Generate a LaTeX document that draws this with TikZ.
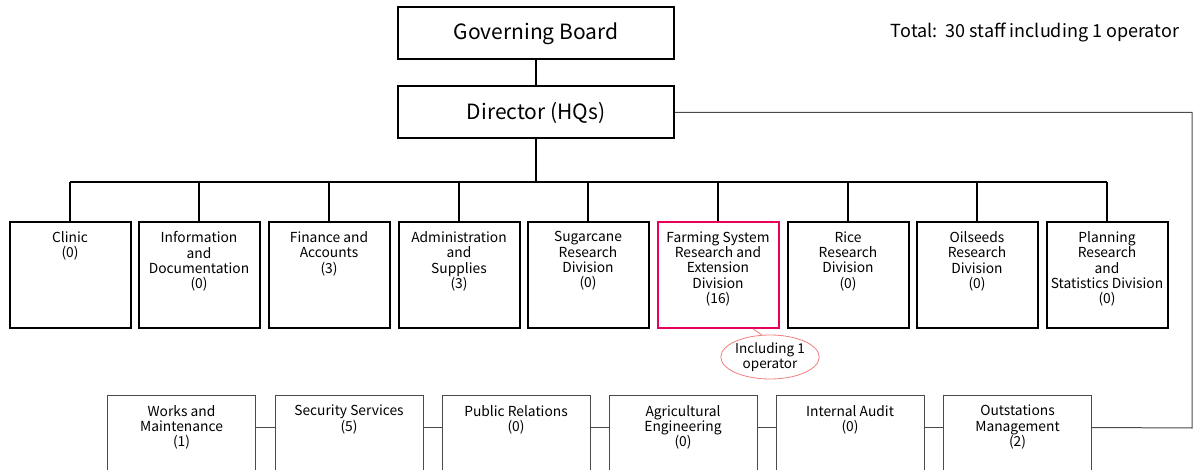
\documentclass[tikz,border=0pt]{standalone}
\usepackage{fontspec}
\setmainfont{Noto Sans CJK JP}
\usetikzlibrary{shapes.geometric}
\definecolor{hot}{HTML}{E8005A}
\definecolor{notered}{HTML}{EE7F7F}
\definecolor{thin}{HTML}{4A4A4A}
\begin{document}
\begin{tikzpicture}[x=1pt,y=-1pt,
  head/.style={draw,line width=2pt,minimum width=276pt,minimum height=52pt,inner sep=0pt,font=\fontsize{21}{24}\selectfont},
  divbox/.style={draw,line width=2pt,minimum width=121pt,minimum height=106pt,inner sep=0pt},
  lowbox/.style={draw=thin,line width=1pt,minimum width=148pt,minimum height=110pt,inner sep=0pt},
  txt/.style={anchor=north,align=center,inner sep=0pt,font=\fontsize{13.8}{15.3}\selectfont},
  link/.style={line width=2pt},
  thinlink/.style={draw=thin,line width=1pt}]
\useasboundingbox (0,0) rectangle (1196,470);
\clip (0,0) rectangle (1196,470);

% governing board and director
\node[head] (board) at (536,33.5) {Governing Board};
\node[head] (dir) at (536,112.5) {Director (HQs)};
\node[font=\fontsize{18}{21}\selectfont,inner sep=0pt] (total) at (1035,32) {Total:\ \ 30 staff including 1 operator};
\draw[link] (board) -- (dir);

% divisions under the director
\coordinate (bus) at (0,182);
\foreach \n/\x/\t in {clinic/70/{Clinic\\(0)},
    info/199/{Information\\and\\Documentation\\(0)},
    fin/329/{Finance and\\Accounts\\(3)},
    adm/459/{Administration\\and\\Supplies\\(3)},
    sugar/588/{Sugarcane\\Research\\Division\\(0)},
    rice/848/{Rice\\Research\\Division\\(0)},
    oil/977/{Oilseeds\\Research\\Division\\(0)},
    plan/1107/{Planning\\Research\\and\\Statistics Division\\(0)}}{
  \node[divbox] (\n) at (\x,275) {};
  \node[txt] (\n-t) at ([yshift=-10.5]\n.north) {\t};
}
\node[divbox,draw=hot] (farm) at (718,275) {};
\node[txt] (farm-t) at ([yshift=-10.5]farm.north) {Farming System\\Research and\\Extension\\Division\\(16)};

\draw[link] (dir.south) -- (dir.south |- bus);
\draw[link] (clinic.north |- bus) -- (plan.north |- bus);
\foreach \n in {clinic,info,fin,adm,sugar,farm,rice,oil,plan}
  \draw[link] (\n.north) -- (\n.north |- bus);

% note on the farming system division
\node[ellipse,draw=notered,line width=0.8pt,minimum width=90pt,minimum height=44pt,inner sep=0pt,
      align=center,font=\fontsize{13.5}{15.3}\selectfont] (note) at (770,357) {Including 1\\operator};
\draw[notered,line width=0.8pt] ([xshift=35]farm.south) -- (note.110);

% units linked to the director
\foreach \n/\x/\t in {works/181.5/{Works and\\Maintenance\\(1)},
    sec/349/{Security Services\\(5)},
    pub/516/{Public Relations\\(0)},
    agri/683/{Agricultural\\Engineering\\(0)},
    audit/850/{Internal Audit\\(0)},
    outst/1017.5/{Outstations\\Management\\(2)}}{
  \node[lowbox] (\n) at (\x,450) {};
  \node[txt] (\n-t) at ([yshift=-10.5]\n.north) {\t};
}
\foreach \a/\b in {works/sec,sec/pub,pub/agri,agri/audit,audit/outst}
  \draw[thinlink] ([yshift=-33]\a.north east) -- ([yshift=-33]\b.north west);
\coordinate (rt) at (1192,428);
\draw[thinlink] (dir.east) -| (rt) -- ([yshift=-33]outst.north east);
\end{tikzpicture}
\end{document}
